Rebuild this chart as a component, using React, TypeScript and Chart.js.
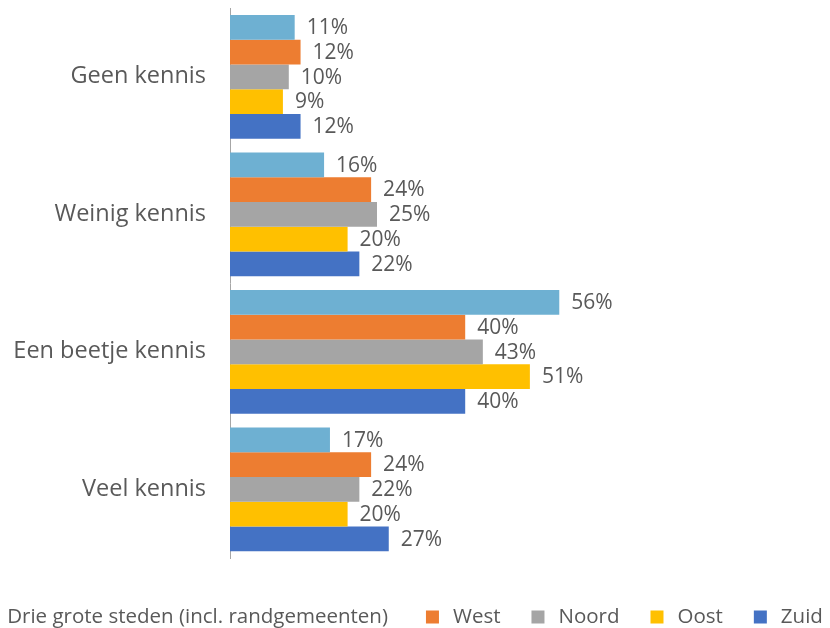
import React, { useEffect, useRef } from "react";
import { Chart, registerables } from "chart.js";

Chart.register(...registerables);

const categories = ["Geen kennis", "Weinig kennis", "Een beetje kennis", "Veel kennis"];
const seriesNames = ["Drie grote steden (incl. randgemeenten)", "West", "Noord", "Oost", "Zuid"];
const drieGroteSteden = [11, 16, 56, 17];
const west = [12, 24, 40, 24];
const noord = [10, 25, 43, 22];
const oost = [9, 20, 51, 20];
const zuid = [12, 22, 40, 27];
const seriesColors = ["#6EB0D2", "#ED7D31", "#A5A5A5", "#FFC000", "#4472C4"];
const legendShowBox = [false, true, true, true, true];

const FONT = "'Open Sans', 'Noto Sans', sans-serif";
const TEXT_COLOR = "#595959";

const dataLabelPlugin = {
  id: "dataLabels",
  afterDatasetsDraw(chart: any) {
    const ctx = chart.ctx;
    ctx.save();
    ctx.font = `21px ${FONT}`;
    ctx.fillStyle = TEXT_COLOR;
    ctx.textAlign = "left";
    ctx.textBaseline = "middle";
    chart.data.datasets.forEach((ds: any, i: number) => {
      const meta = chart.getDatasetMeta(i);
      meta.data.forEach((el: any, j: number) => {
        ctx.fillText(`${ds.data[j]}%`, el.x + 12, el.y + 1);
      });
    });
    ctx.restore();
  },
};

const legendPlugin = {
  id: "customLegend",
  afterDraw(chart: any) {
    const ctx = chart.ctx;
    ctx.save();
    ctx.font = `20.5px ${FONT}`;
    ctx.textBaseline = "middle";
    ctx.textAlign = "left";
    const box = 13;
    const boxGap = 14;
    const itemGap = 31;
    const firstGap = 38;
    const items = chart.data.datasets.map((ds: any, i: number) => ({
      text: ds.label,
      color: ds.backgroundColor,
      box: legendShowBox[i],
      w: ctx.measureText(ds.label).width,
    }));
    let total = 0;
    items.forEach((it: any, i: number) => {
      if (i > 0) total += i === 1 ? firstGap : itemGap;
      if (it.box) total += box + boxGap;
      total += it.w;
    });
    let x = (chart.width - total) / 2;
    const y = 617;
    items.forEach((it: any, i: number) => {
      if (i > 0) x += i === 1 ? firstGap : itemGap;
      if (it.box) {
        ctx.fillStyle = it.color;
        ctx.fillRect(x, y - box / 2, box, box);
        x += box + boxGap;
      }
      ctx.fillStyle = TEXT_COLOR;
      ctx.fillText(it.text, x, y);
      x += it.w;
    });
    ctx.restore();
  },
};

export default function App() {
  const ref = useRef<HTMLCanvasElement>(null);
  useEffect(() => {
    document.body.style.margin = "0";
    const values = [drieGroteSteden, west, noord, oost, zuid];
    const chart = new Chart(ref.current!, {
      type: "bar",
      data: {
        labels: categories,
        datasets: seriesNames.map((name, i) => ({
          label: name,
          data: values[i],
          backgroundColor: seriesColors[i],
          borderWidth: 0,
          categoryPercentage: 0.9,
          barPercentage: 1.0,
        })),
      },
      options: {
        indexAxis: "y",
        animation: false,
        responsive: false,
        maintainAspectRatio: false,
        layout: { padding: { top: 8, right: 12, bottom: 70, left: 0 } },
        plugins: { legend: { display: false }, tooltip: { enabled: false } },
        scales: {
          x: { display: false, min: 0, max: 100 },
          y: {
            grid: { display: false },
            border: { display: true, color: "#a6a6a6", width: 1 },
            ticks: { color: TEXT_COLOR, font: { family: FONT, size: 23.5 }, padding: 16 },
            afterFit: (scale: any) => {
              scale.width = 230;
              scale.paddingTop = 0;
              scale.paddingBottom = 0;
            },
          },
        },
      },
      plugins: [dataLabelPlugin, legendPlugin],
    });
    return () => chart.destroy();
  }, []);
  return <canvas ref={ref} width={830} height={628} style={{ display: "block" }} />;
}
